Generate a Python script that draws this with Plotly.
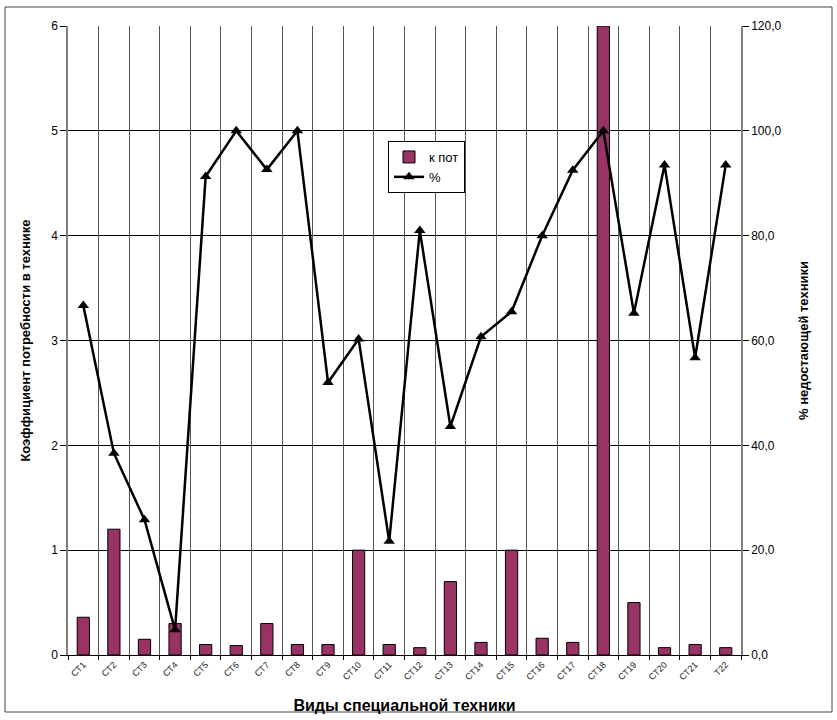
import plotly.graph_objects as go

# Categories of special equipment
categories = ["СТ1", "СТ2", "СТ3", "СТ4", "СТ5", "СТ6", "СТ7", "СТ8", "СТ9", "СТ10", "СТ11",
              "СТ12", "СТ13", "СТ14", "СТ15", "СТ16", "СТ17", "СТ18", "СТ19", "СТ20", "СТ21", "Т22"]

# Need coefficient (left axis)
k_pot = [0.36, 1.2, 0.15, 0.3, 0.1, 0.09, 0.3, 0.1, 0.1, 1.0, 0.1,
         0.07, 0.7, 0.12, 1.0, 0.16, 0.12, 6.0, 0.5, 0.07, 0.1, 0.07]

# Share of missing equipment, % (right axis)
pct = [66.7, 38.5, 25.8, 4.8, 91.3, 100.0, 92.6, 100.0, 52.0, 60.3, 21.7,
       81.0, 43.6, 60.7, 65.5, 80.0, 92.5, 100.0, 65.2, 93.5, 56.7, 93.5]

left_ticks = [0, 1, 2, 3, 4, 5, 6]
right_ticks = [0, 20, 40, 60, 80, 100, 120]

W, H = 837, 720
ml, mr, mt, mb = 68, 96, 26, 65
pw, ph = W - ml - mr, H - mt - mb
n = len(categories)

fig = go.Figure()

fig.add_trace(go.Bar(
    x=categories, y=k_pot, name="к пот",
    marker=dict(color="#993366", line=dict(color="#000000", width=1)),
    width=0.4,
))

fig.add_trace(go.Scatter(
    x=categories, y=pct, name="%", yaxis="y2",
    mode="lines+markers",
    line=dict(color="#000000", width=2.5),
    marker=dict(symbol="triangle-up", size=10, color="#000000"),
))

fig.update_layout(
    width=W, height=H,
    margin=dict(l=ml, r=mr, t=mt, b=mb),
    paper_bgcolor="white", plot_bgcolor="white",
    separators=", ",
    font=dict(family="Liberation Sans, Arial, sans-serif", color="#000000", size=12),
    showlegend=True,
    legend=dict(
        x=(388 - ml) / pw, y=(H - mb - 141) / ph, xanchor="left", yanchor="top",
        bgcolor="white", bordercolor="#000000", borderwidth=1,
        font=dict(size=13), tracegroupgap=0, itemwidth=30,
    ),
    bargap=0.6,
    xaxis=dict(
        type="category",
        range=[-0.5, n - 0.5],
        automargin=False,
        ticks="", tickangle=-45,
        tickfont=dict(size=9, color="#222222"),
        showgrid=False,
        showline=True, linecolor="#000000", linewidth=1,
        title=dict(text="<b>Виды специальной техники</b>", font=dict(size=16), standoff=18),
    ),
    # boundary grid between categories
    xaxis2=dict(
        overlaying="x", side="bottom", anchor="y",
        range=[-0.5, n - 0.5], tick0=-0.5, dtick=1,
        showticklabels=False, ticks="outside", ticklen=4, tickcolor="#000000",
        showgrid=True, gridcolor="#555555", gridwidth=1,
        zeroline=False, showline=False,
    ),
    yaxis=dict(
        range=[0, 6], tickvals=left_ticks,
        ticks="outside", ticklen=6, tickcolor="#000000",
        tickfont=dict(size=12),
        showgrid=True, gridcolor="#000000", gridwidth=1,
        showline=True, linecolor="#808080", linewidth=1.5,
        zeroline=False,
        title=dict(text="<b>Коэффициент потребности в технике</b>", font=dict(size=13), standoff=18),
    ),
    yaxis2=dict(
        range=[0, 120], tickvals=right_ticks, tickformat=".1f",
        overlaying="y", side="right",
        ticks="outside", ticklen=6, tickcolor="#000000",
        tickfont=dict(size=12),
        showgrid=False,
        showline=True, linecolor="#808080", linewidth=1.5,
        zeroline=False,
        title=dict(text="<b>% недостающей техники</b>", font=dict(size=13), standoff=18),
    ),
    shapes=[dict(
        type="rect", xref="paper", yref="paper",
        x0=(5 - ml) / pw, x1=(832 - ml) / pw,
        y0=(H - mb - 712) / ph, y1=(H - mb - 7) / ph,
        line=dict(color="#444444", width=1), fillcolor="rgba(0,0,0,0)", layer="below",
    )],
)

# invisible helper trace so the boundary axis is rendered
fig.add_trace(go.Scatter(x=[-0.5, n - 0.5], y=[0, 0], xaxis="x2", mode="none",
                         showlegend=False, hoverinfo="skip"))

fig.write_html("out.html")
